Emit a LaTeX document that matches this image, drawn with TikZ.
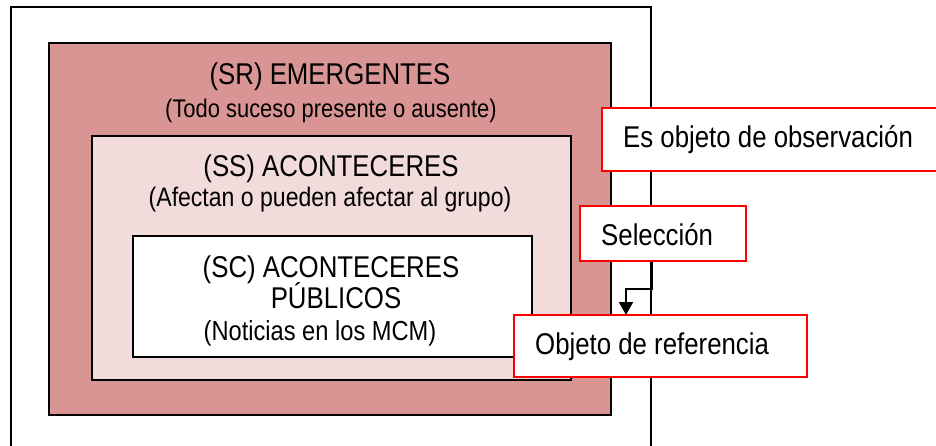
\documentclass[tikz,border=0pt]{standalone}
\usepackage{fontspec}
\setmainfont[FakeStretch=0.86]{Liberation Sans}
\usetikzlibrary{arrows.meta}
\definecolor{srfill}{HTML}{D99594}
\definecolor{ssfill}{HTML}{F2DCDB}
\begin{document}
\begin{tikzpicture}[x=1pt,y=-1pt,
  frame/.style={draw=black,line width=2pt,outer sep=0pt,inner sep=0pt,anchor=north west},
  lab/.style={draw=red,line width=2.5pt,fill=white,outer sep=0pt,inner sep=0pt,anchor=north west},
  txt/.style={anchor=base,inner sep=0pt,font=\fontsize{30}{35}\selectfont},
  labtxt/.style={anchor=base west,inner sep=0pt,font=\fontsize{30}{35}\selectfont},
  sub/.style={anchor=base,inner sep=0pt,font=\fontsize{26}{30}\selectfont},
  conn/.style={draw=black,line width=1.8pt,-{Triangle[width=14pt,length=13pt]}}]
\clip (0,0) rectangle (936,446);
% nested boxes
\node (outer) [frame,fill=white,minimum width=640,minimum height=463] at (11,7) {};
\node (sr) [frame,fill=srfill,minimum width=562,minimum height=372] at (49,43) {};
\node (ss) [frame,fill=ssfill,minimum width=479,minimum height=244] at (92,136) {};
\node (sc) [frame,fill=white,minimum width=399,minimum height=121] at (133,236) {};
% texts
\node (srt) [txt] at (330,85) {(SR) EMERGENTES};
\node (srs) [sub,font=\fontsize{25.5}{30}\selectfont] at (331,118) {(Todo suceso presente o ausente)};
\node (sst) [txt] at (331,177) {(SS) ACONTECERES};
\node (sss) [sub,font=\fontsize{26.8}{30}\selectfont] at (330,207) {(Afectan o pueden afectar al grupo)};
\node (sct1) [txt] at (331,277) {(SC) ACONTECERES};
\node (sct2) [txt] at (336,308) {PÚBLICOS};
\node (scs) [sub,font=\fontsize{27.5}{30}\selectfont] at (320,340) {(Noticias en los MCM)};
% label boxes
\node (obs) [lab,minimum width=360,minimum height=63] at (602,108) {};
\node (obst) [labtxt] at (623,148) {Es objeto de observación};
\node (sel) [lab,minimum width=166,minimum height=55] at (580,206) {};
\node (selt) [labtxt] at (601,246) {Selección};
\node (ref) [lab,minimum width=293,minimum height=62] at (514,315) {};
\node (reft) [labtxt] at (535,354) {Objeto de referencia};
% connector
\coordinate (c1) at (652,262);
\coordinate (c2) at (626,289);
\draw[conn] (c1) |- (c2) -- (c2 |- ref.north);
\end{tikzpicture}
\end{document}
